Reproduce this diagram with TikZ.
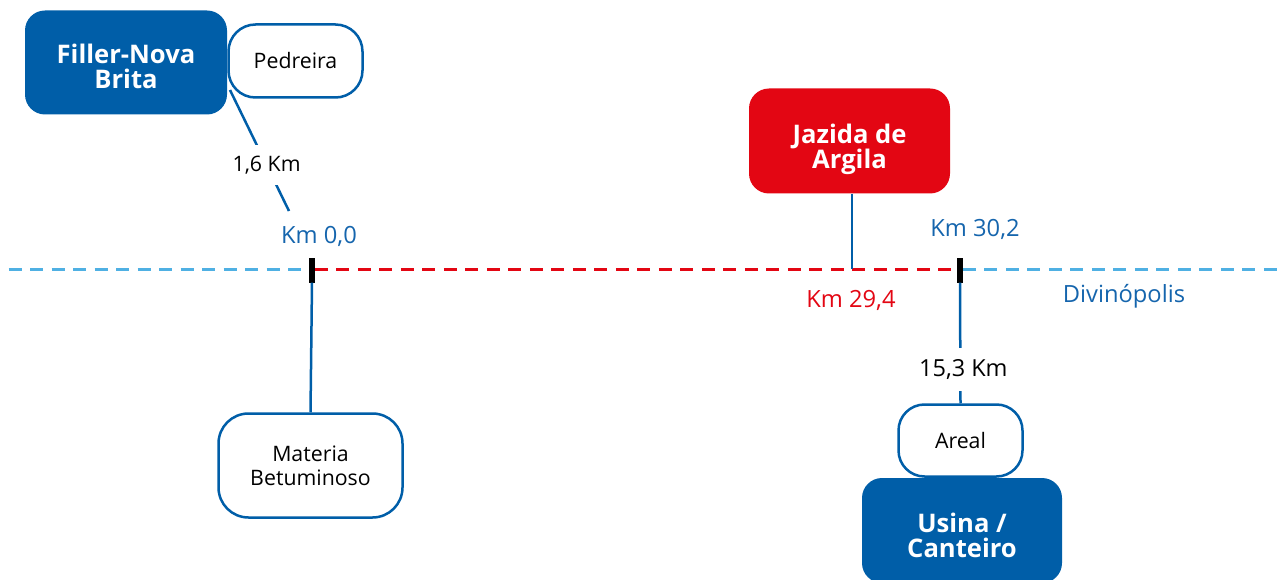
\documentclass[tikz,border=0pt]{standalone}
\usepackage{fontspec}
\setmainfont{Open Sans}
\definecolor{dblue}{HTML}{005EA8}
\definecolor{tblue}{HTML}{1565AD}
\definecolor{lblue}{HTML}{4FB0E3}
\definecolor{myred}{HTML}{E30613}
\begin{document}
\begin{tikzpicture}[x=1pt,y=-1pt,
  solidbox/.style={draw=none, rounded corners=20pt, text=white, align=center, inner sep=0pt,
    font=\fontsize{25.6}{25}\selectfont\bfseries},
  bluebox/.style={solidbox, fill=dblue},
  redbox/.style={solidbox, fill=myred},
  whitebox/.style={fill=white, draw=dblue, line width=2.5pt, align=center, inner sep=0pt,
    text=black, font=\fontsize{21.3}{24}\selectfont},
  lifted/.style={text height=60pt, text depth=#1},
  conn/.style={draw=dblue, line width=2.5pt},
  lbl/.style={fill=white, inner xsep=2pt, inner ysep=11pt, text=black},
  kmtext/.style={font=\fontsize{23.7}{26}\selectfont, inner sep=0pt},
  tickmark/.style={fill=black, draw=none, minimum width=5.5pt, minimum height=25pt, inner sep=0pt},
  ldash/.style={draw=lblue, line width=3pt, dash pattern=on 13pt off 8.5pt},
  rdash/.style={draw=myred, line width=3pt, dash pattern=on 13pt off 8.5pt}]
\useasboundingbox (0,0) rectangle (1277,580);

% dashed road
\coordinate (L) at (0,269);
\coordinate (R) at (1277,269);
\node[tickmark] (t1) at (312,270) {};
\node[tickmark] (t2) at (960,270) {};
\draw[ldash, dash phase=13pt] (L) -- (t1.west |- L);
\draw[rdash] (t1.east |- L) -- (t2.west |- L);
\draw[ldash] (t2.east |- L) -- (R);
\node[tickmark] at (312,270) {};
\node[tickmark] at (960,270) {};

% top-left
\node[whitebox, rounded corners=27pt, minimum width=134pt, minimum height=73pt] (pedreira) at (295.5,61) {Pedreira};
\node[bluebox, lifted=7.7pt, minimum width=202pt, minimum height=104pt] (filler) at (126,62.5) {Filler-Nova\\Brita};
\coordinate (fa) at (230,90);
\coordinate (fb) at (289,211);
\draw[conn] (fa) -- node[lbl, pos=0.62, font=\fontsize{21.3}{24}\selectfont] (l16) {1,6 Km} (fb);
\node[kmtext, text=tblue] (k0) at (319,236) {Km 0,0};

% materia
\node[whitebox, lifted=19.4pt, rounded corners=30pt, minimum width=184pt, minimum height=104pt] (materia) at (310.5,465.5) {Materia\\Betuminoso};
\draw[conn] (t1.south) -- (materia.north);

% jazida
\node[redbox, lifted=4.3pt, minimum width=201pt, minimum height=105pt] (jazida) at (849.5,141) {Jazida de\\Argila};
\coordinate (j) at (852,269);
\draw[conn] (jazida.south -| j) -- (j);
\node[kmtext, text=myred] (k294) at (851,300) {Km 29,4};
\node[kmtext, text=tblue] (k302) at (975,229) {Km 30,2};
\node[kmtext, text=tblue] (div) at (1124,296) {Divinópolis};

% areal / usina
\node[whitebox, rounded corners=26pt, minimum width=124pt, minimum height=72pt] (areal) at (960.5,440.5) {Areal};
\draw[conn] (t2.south) -- node[lbl, pos=0.72, xshift=3pt, font=\fontsize{23.5}{26}\selectfont] (l153) {15,3 Km} (areal.north);
\node[bluebox, lifted=5.7pt, minimum width=200pt, minimum height=105pt] (usina) at (962,530.5) {Usina /\\Canteiro};
\end{tikzpicture}
\end{document}
